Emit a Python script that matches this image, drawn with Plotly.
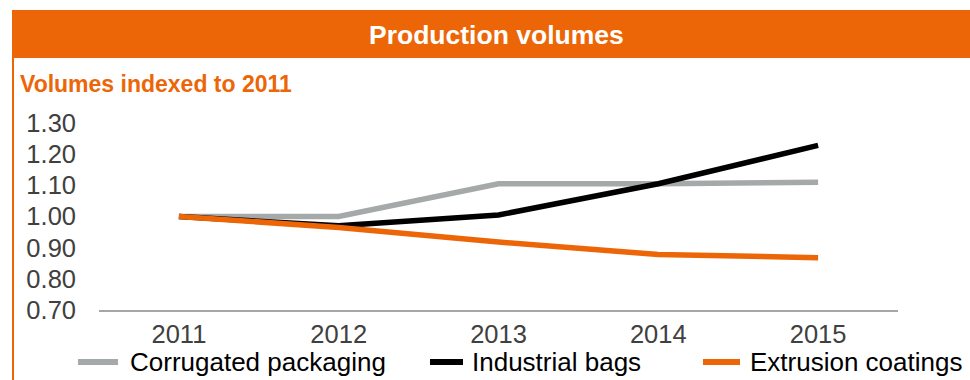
import plotly.graph_objects as go

# Production volumes, indexed to 2011
years = ["2011", "2012", "2013", "2014", "2015"]
corrugated_packaging = [1.00, 1.00, 1.105, 1.105, 1.11]
industrial_bags = [1.00, 0.97, 1.005, 1.105, 1.228]
extrusion_coatings = [1.00, 0.965, 0.918, 0.878, 0.868]
y_ticks = [0.70, 0.80, 0.90, 1.00, 1.10, 1.20, 1.30]

ORANGE = "#EC6608"
GREY = "#A5A9AA"
BLACK = "#000000"
FONT = "Liberation Sans, Arial, sans-serif"

W, H = 970, 380
L, R, T, B = 99, 72, 123, 70
PW, PH = W - L - R, H - T - B


def px_x(px):
    return (px - L) / PW


def px_y(py):
    return (H - B - py) / PH


series = [
    ("Corrugated packaging", corrugated_packaging, GREY),
    ("Industrial bags", industrial_bags, BLACK),
    ("Extrusion coatings", extrusion_coatings, ORANGE),
]

fig = go.Figure()
for name, vals, color in series:
    fig.add_trace(go.Scatter(
        x=years, y=vals, name=name, mode="lines",
        line=dict(color=color, width=5.5),
        showlegend=False,
    ))

# Key along the bottom: a short swatch followed by the series name
key_slots = [(78, 118, 128), (430, 463, 470), (703, 740, 748)]
key_y = 362
shapes = [
    # header band
    dict(type="rect", xref="paper", yref="paper",
         x0=px_x(12), x1=px_x(972), y0=px_y(58), y1=px_y(10),
         fillcolor=ORANGE, line=dict(width=0), layer="below"),
    # left frame line
    dict(type="line", xref="paper", yref="paper",
         x0=px_x(13), x1=px_x(13), y0=px_y(58), y1=px_y(382),
         line=dict(color=ORANGE, width=2)),
]
annotations = [
    dict(text="<b>Production volumes</b>", xref="paper", yref="paper",
         x=px_x(496), y=px_y(35), xanchor="center", yanchor="middle",
         showarrow=False, font=dict(family=FONT, size=26.5, color="white")),
    dict(text="<b>Volumes indexed to 2011</b>", xref="paper", yref="paper",
         x=px_x(18), y=px_y(84), xanchor="left", yanchor="middle",
         showarrow=False, font=dict(family=FONT, size=23, color=ORANGE)),
]
for (name, _, color), (s0, s1, tx) in zip(series, key_slots):
    shapes.append(dict(
        type="line", xref="paper", yref="paper",
        x0=px_x(s0), x1=px_x(s1), y0=px_y(key_y), y1=px_y(key_y),
        line=dict(color=color, width=6)))
    annotations.append(dict(
        text=name, xref="paper", yref="paper",
        x=px_x(tx), y=px_y(key_y), xanchor="left", yanchor="middle",
        showarrow=False, font=dict(family=FONT, size=26, color="#000000")))

fig.update_layout(
    width=W, height=H,
    margin=dict(l=L, r=R, t=T, b=B, pad=0),
    paper_bgcolor="white", plot_bgcolor="white",
    font=dict(family=FONT),
    showlegend=False,
    xaxis=dict(
        type="category", range=[-0.5, 4.5], showgrid=False, zeroline=False,
        showline=True, linecolor="#A6A6A6", linewidth=2,
        ticks="", tickfont=dict(family=FONT, size=25.5, color="#404040"),
        ticklabelstandoff=0,
    ),
    yaxis=dict(
        range=[0.70, 1.30], tickvals=y_ticks,
        ticktext=[f"{v:.2f}" for v in y_ticks],
        showgrid=False, zeroline=False, showline=False, ticks="",
        tickfont=dict(family=FONT, size=25.5, color="#404040"),
        ticklabelstandoff=22,
    ),
    shapes=shapes,
    annotations=annotations,
)

fig.write_html("out.html")
